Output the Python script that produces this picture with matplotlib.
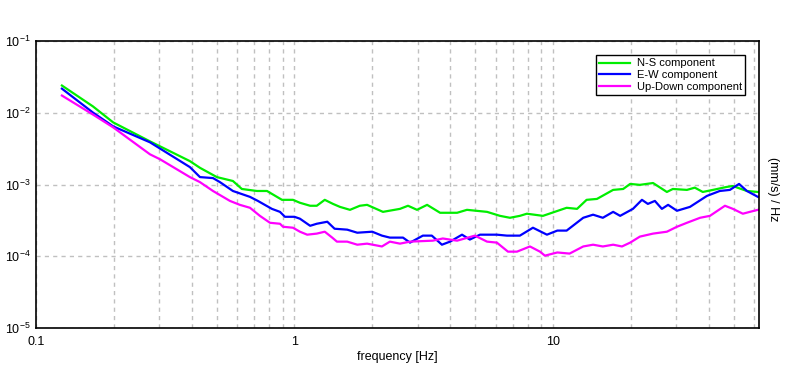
import numpy as np
import matplotlib
matplotlib.use("Agg")
import matplotlib.pyplot as plt
from matplotlib.ticker import LogLocator, FixedLocator, NullFormatter

plt.rcParams["font.family"] = ["Liberation Sans", "DejaVu Sans"]
plt.rcParams["mathtext.default"] = "regular"

# N-S component
ns_freq = [0.126, 0.166, 0.199, 0.276, 0.394, 0.431, 0.501, 0.578, 0.626, 0.716,
           0.783, 0.895, 0.987, 1.05, 1.15, 1.22, 1.31, 1.41, 1.50, 1.64,
           1.79, 1.91, 2.20, 2.56, 2.75, 2.98, 3.26, 3.66, 4.26, 4.65,
           5.56, 6.24, 6.82, 7.45, 7.93, 9.15, 11.3, 12.4, 13.5, 14.8,
           17.1, 18.7, 19.9, 21.7, 24.4, 27.6, 29.1, 33.0, 35.4, 38.0,
           41.6, 47.1, 49.7, 56.3, 62.1]
ns_val = [0.0240, 0.0123, 0.00734, 0.00400, 0.00212, 0.00171, 0.00127, 0.00112, 0.000867, 0.000813,
          0.000813, 0.000612, 0.000612, 0.000557, 0.000506, 0.000506, 0.000612, 0.000537, 0.000488, 0.000444,
          0.000506, 0.000521, 0.000416, 0.000458, 0.000506, 0.000444, 0.000521, 0.000404, 0.000404, 0.000444,
          0.000416, 0.000366, 0.000344, 0.000366, 0.000392, 0.000366, 0.000474, 0.000458, 0.000612, 0.000630,
          0.000842, 0.000867, 0.00102, 0.00099, 0.00105, 0.000788, 0.000867, 0.000842, 0.000905, 0.000788,
          0.000842, 0.000927, 0.000953, 0.000813, 0.000788]

# E-W component
ew_freq = [0.126, 0.166, 0.199, 0.276, 0.394, 0.431, 0.484, 0.515, 0.578, 0.673,
           0.722, 0.818, 0.879, 0.919, 1.00, 1.05, 1.15, 1.22, 1.34, 1.43,
           1.60, 1.75, 2.00, 2.18, 2.34, 2.63, 2.80, 3.14, 3.40, 3.72,
           4.00, 4.45, 4.77, 5.22, 6.07, 6.64, 7.45, 8.37, 9.48, 10.4,
           11.3, 13.1, 14.3, 15.6, 17.1, 18.2, 20.4, 22.1, 23.3, 24.8,
           26.4, 27.9, 30.2, 33.9, 39.4, 44.2, 48.4, 52.5, 56.3, 62.1]
ew_val = [0.0217, 0.0101, 0.00646, 0.00388, 0.00175, 0.00127, 0.00123, 0.00108, 0.000813, 0.000673,
          0.000591, 0.000458, 0.000416, 0.000355, 0.000355, 0.000334, 0.000266, 0.000284, 0.000303, 0.000242,
          0.000235, 0.000213, 0.000220, 0.000194, 0.000182, 0.000182, 0.000155, 0.000194, 0.000194, 0.000145,
          0.000160, 0.000200, 0.000171, 0.000200, 0.000200, 0.000194, 0.000194, 0.000250, 0.000200, 0.000228,
          0.000228, 0.000344, 0.000380, 0.000344, 0.000416, 0.000366, 0.000458, 0.000612, 0.000537, 0.000591,
          0.000458, 0.000521, 0.000431, 0.000488, 0.000693, 0.000813, 0.000842, 0.00102, 0.000813, 0.000673]

# Up-Down component
ud_freq = [0.126, 0.166, 0.199, 0.276, 0.302, 0.394, 0.431, 0.484, 0.563, 0.615,
           0.673, 0.735, 0.804, 0.879, 0.903, 0.987, 1.05, 1.12, 1.22, 1.31,
           1.40, 1.46, 1.60, 1.75, 1.91, 2.18, 2.34, 2.56, 2.80, 3.43,
           3.75, 4.26, 4.99, 5.56, 6.07, 6.70, 7.26, 8.15, 8.91, 9.31,
           10.4, 11.6, 13.1, 14.3, 15.6, 17.1, 18.5, 19.9, 21.7, 24.4,
           27.6, 30.2, 33.0, 37.1, 40.5, 46.3, 49.7, 54.3, 57.8, 62.1]
ud_val = [0.0174, 0.00947, 0.00626, 0.00264, 0.00225, 0.00127, 0.00108, 0.000813, 0.000591, 0.000521,
          0.000474, 0.000366, 0.000293, 0.000284, 0.000258, 0.000250, 0.000220, 0.000200, 0.000207, 0.000220,
          0.000182, 0.000160, 0.000160, 0.000145, 0.000150, 0.000137, 0.000160, 0.000150, 0.000160, 0.000165,
          0.000177, 0.000165, 0.000194, 0.000160, 0.000155, 0.000116, 0.000116, 0.000137, 0.000116, 0.000102,
          0.000113, 0.000109, 0.000137, 0.000145, 0.000137, 0.000145, 0.000137, 0.000155, 0.000188, 0.000207,
          0.000220, 0.000258, 0.000293, 0.000344, 0.000366, 0.000506, 0.000458, 0.000392, 0.000416, 0.000444]

fig = plt.figure(figsize=(7.96, 3.70), dpi=100)
ax = fig.add_axes([0.0452, 0.1135, 0.9083, 0.7755])

ax.plot(ns_freq, ns_val, color="#00ee00", linewidth=1.6, label="N-S component")
ax.plot(ew_freq, ew_val, color="#0000ff", linewidth=1.6, label="E-W component")
ax.plot(ud_freq, ud_val, color="#ff00ff", linewidth=1.6, label="Up-Down component")

ax.set_xscale("log")
ax.set_yscale("log")
ax.set_xlim(0.1, 62.7)
ax.set_ylim(1e-5, 1e-1)

ax.xaxis.set_major_locator(FixedLocator([0.1, 1, 10]))
ax.set_xticklabels(["0.1", "1", "10"])
ax.xaxis.set_minor_locator(LogLocator(base=10, subs=np.arange(2, 10)))
ax.xaxis.set_minor_formatter(NullFormatter())
ax.yaxis.set_major_locator(FixedLocator([1e-5, 1e-4, 1e-3, 1e-2, 1e-1]))
ax.set_yticklabels(["$10^{-5}$", "$10^{-4}$", "$10^{-3}$", "$10^{-2}$", "$10^{-1}$"])
ax.yaxis.set_minor_locator(FixedLocator([]))

ax.tick_params(which="both", length=0, labelsize=9)
ax.tick_params(axis="x", pad=6)
ax.tick_params(axis="y", pad=4)

grid_kw = dict(color="#c0c0c0", linestyle=(0, (3, 3)), linewidth=1)
ax.grid(True, which="major", axis="both", **grid_kw)
ax.grid(True, which="minor", axis="x", **grid_kw)
ax.set_axisbelow(True)

for s in ax.spines.values():
    s.set_color("black")
    s.set_linewidth(1.2)

ax.set_xlabel("frequency [Hz]", fontsize=9, labelpad=2)
fig.text(0.971, 0.49, "(mm/s) / Hz", rotation=270, ha="center", va="center", fontsize=9)

leg = ax.legend(loc="upper right", bbox_to_anchor=(0.981, 0.951), fontsize=8,
                handlelength=2.8, fancybox=False, framealpha=1, edgecolor="black",
                borderaxespad=0, labelspacing=0.15, borderpad=0.3, handletextpad=0.6)
leg.get_frame().set_linewidth(1)

fig.savefig("out.png", dpi=100)
